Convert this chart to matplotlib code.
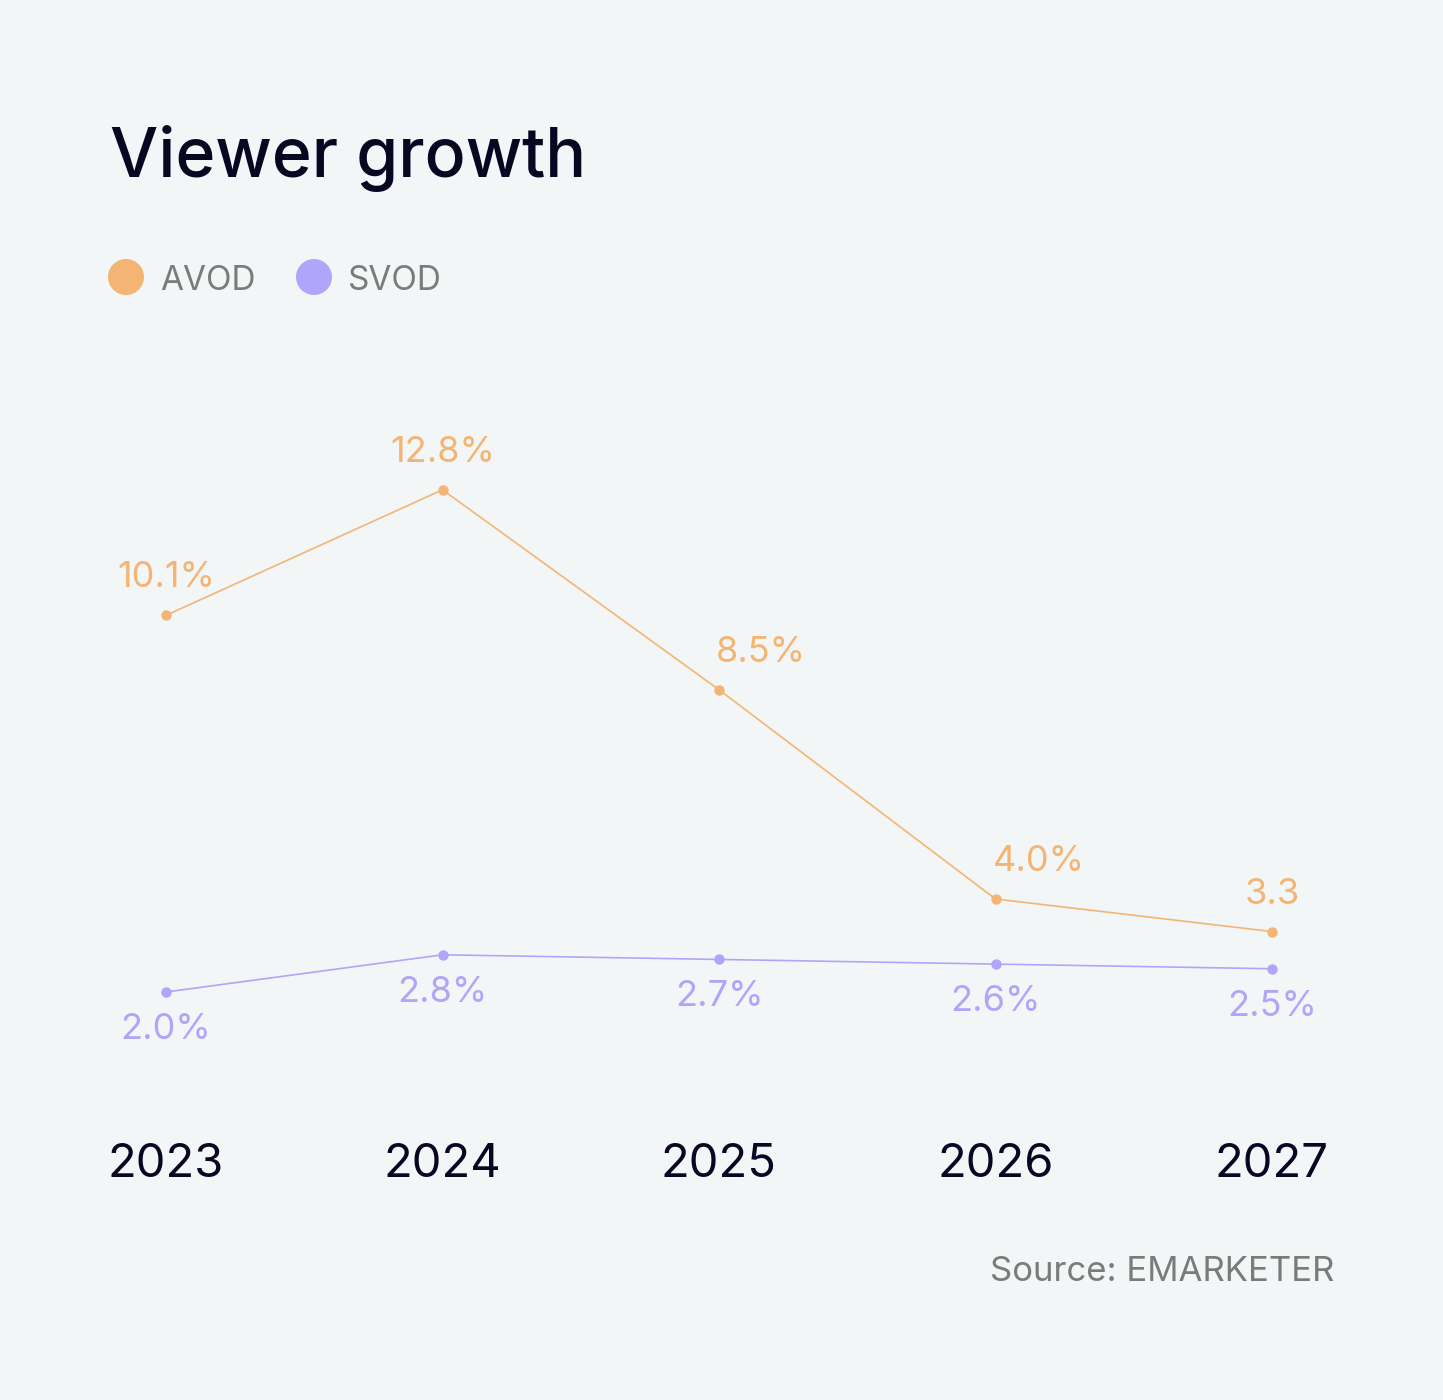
import matplotlib.pyplot as plt

years = [2023, 2024, 2025, 2026, 2027]
avod = [10.1, 12.8, 8.5, 4.0, 3.3]
svod = [2.0, 2.8, 2.7, 2.6, 2.5]
avod_labels = ['10.1%', '12.8%', '8.5%', '4.0%', '3.3']
svod_labels = ['2.0%', '2.8%', '2.7%', '2.6%', '2.5%']

BG = '#F2F6F7'
ORANGE = '#F4B574'
PURPLE = '#AFA6F9'
NAVY = '#070722'
GRAY = '#7B7B7B'
W, H = 1443, 1400

plt.rcParams['font.family'] = ['Inter', 'DejaVu Sans']

fig = plt.figure(figsize=(W / 100, H / 100), dpi=100, facecolor=BG)

# axes placed so that 2023..2027 span x px 166..1272, y value 0 at px 1085
ax = fig.add_axes([166 / W, (H - 1085) / H, (1272 - 166) / W, 651 / H])
ax.set_facecolor(BG)
ax.set_xlim(2023, 2027)
ax.set_ylim(0, 14)
ax.axis('off')

ax.plot(years, avod, color=ORANGE, lw=1.2, marker='o', ms=6.5, clip_on=False)
ax.plot(years, svod, color=PURPLE, lw=1.2, marker='o', ms=6.5, clip_on=False)

# some labels in the original sit to the right of their point
avod_ha = ['center', 'center', 'left', 'left', 'center']
for x, y, t, ha in zip(years, avod, avod_labels, avod_ha):
    dx = -2 if ha == 'left' else 0
    ax.annotate(t, (x, y), xytext=(dx, 27), textcoords='offset points',
                ha=ha, va='center', fontsize=26, color=ORANGE)
for x, y, t in zip(years, svod, svod_labels):
    ax.annotate(t, (x, y), xytext=(0, -27), textcoords='offset points',
                ha='center', va='center', fontsize=26, color=PURPLE)

# year labels, baseline at px 1177
for x in years:
    ax.text(x, -(1177 - 1085) / 46.5, str(x), ha='center', va='baseline',
            fontsize=34, color=NAVY)

fig.text(110 / W, 1 - 177 / H, 'Viewer growth', fontsize=49, color=NAVY,
         ha='left', va='baseline', fontweight=500)

# legend
leg = fig.add_axes([0, 0, 1, 1], facecolor='none')
leg.set_xlim(0, W)
leg.set_ylim(H, 0)
leg.axis('off')
leg.scatter([126, 314], [277, 277], s=(36 * 0.72) ** 2, color=[ORANGE, PURPLE], lw=0)
leg.text(160, 290, 'AVOD', fontsize=24, color=GRAY, va='baseline', ha='left')
leg.text(348, 290, 'SVOD', fontsize=24, color=GRAY, va='baseline', ha='left')

fig.text(1334 / W, 1 - 1281 / H, 'Source: EMARKETER', fontsize=25, color=GRAY,
         ha='right', va='baseline')

fig.savefig('out.png', dpi=100, facecolor=BG)
